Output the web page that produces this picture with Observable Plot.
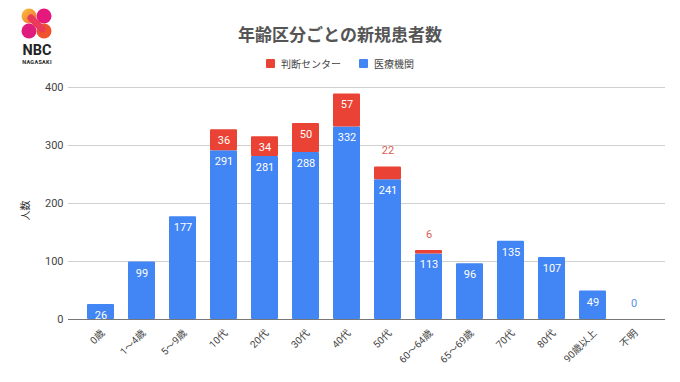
<!DOCTYPE html>
<html>
<head>
<meta charset="utf-8">
<script src="https://cdn.jsdelivr.net/npm/d3@7"></script>
<script src="https://cdn.jsdelivr.net/npm/@observablehq/plot@0.6"></script>
<style>
  body { margin: 0; background: #fff; }
  #wrap { position: relative; width: 680px; height: 382px; overflow: hidden; font-family: Roboto, "Noto Sans CJK JP", sans-serif; }
  #title { position: absolute; left: 0; width: 680px; top: 21px; text-align: center; font-size: 17px; font-weight: bold; color: #555; font-family: "Noto Sans CJK JP", sans-serif; }
  #legend { position: absolute; left: 0; width: 680px; top: 56px; text-align: center; font-size: 10px; color: #444; font-family: "Noto Sans CJK JP", sans-serif; }
  #legend span.item { display: inline-flex; align-items: center; margin: 0 9px; }
  #legend span.sw { display: inline-block; width: 9px; height: 9px; margin-right: 6px; border-radius: 1px; }
  #logo { position: absolute; left: 18px; top: 6px; }
  #chart { position: absolute; left: 0; top: 0; }
</style>
</head>
<body>
<div id="wrap">
  <div id="chart"></div>
  <svg id="logo" width="40" height="62" viewBox="0 0 40 62">
    <defs>
      <linearGradient id="g1" x1="0" y1="0" x2="1" y2="1">
        <stop offset="0" stop-color="#f9c43a"/><stop offset="1" stop-color="#f06a3a"/>
      </linearGradient>
    </defs>
    <circle cx="11" cy="10" r="7.5" fill="url(#g1)"/>
    <circle cx="26" cy="10" r="7.5" fill="#e5197c"/>
    <circle cx="11" cy="25" r="7.5" fill="#e01d7e"/>
    <circle cx="26" cy="25" r="7.5" fill="#f0532c"/>
    <path d="M13 12 L24 23" stroke="#ea3a5a" stroke-width="7" stroke-linecap="round"/>
    <text x="19" y="49" text-anchor="middle" font-family="Roboto, sans-serif" font-weight="bold" font-size="14.5" fill="#222">NBC</text>
    <text x="19" y="58" text-anchor="middle" font-family="Roboto, sans-serif" font-weight="bold" font-size="5.5" fill="#222" letter-spacing="0.3">NAGASAKI</text>
  </svg>
  <div id="title">年齢区分ごとの新規患者数</div>
  <div id="legend"></div>
</div>
<script>
const categories = ["0歳","1〜4歳","5〜9歳","10代","20代","30代","40代","50代","60〜64歳","65〜69歳","70代","80代","90歳以上","不明"];
const iryo   = [26, 99, 177, 291, 281, 288, 332, 241, 113, 96, 135, 107, 49, 0];
const handan = [0, 0, 0, 36, 34, 50, 57, 22, 6, 0, 0, 0, 0, 0];
const seriesNames = ["判断センター", "医療機関"];
const seriesColors = ["#EA4335", "#4285F4"];
const yTicks = [0, 100, 200, 300, 400];
const yLabel = "人数";

// legend
const legend = document.getElementById("legend");
seriesNames.forEach((s, i) => {
  const item = document.createElement("span");
  item.className = "item";
  const sw = document.createElement("span");
  sw.className = "sw";
  sw.style.background = seriesColors[i];
  item.appendChild(sw);
  item.appendChild(document.createTextNode(s));
  legend.appendChild(item);
});

const rows = [];
categories.forEach((c, i) => {
  rows.push({cat: c, series: seriesNames[1], value: iryo[i]});
  rows.push({cat: c, series: seriesNames[0], value: handan[i]});
});

const blueLabels = categories.map((c, i) => ({cat: c, y: iryo[i], text: String(iryo[i]), inside: iryo[i] >= 25}));
const redLabels = categories.map((c, i) => ({cat: c, y: iryo[i] + handan[i], text: String(handan[i]), inside: handan[i] >= 25, show: handan[i] > 0}))
  .filter(d => d.show);

const chart = Plot.plot({
  width: 680,
  height: 382,
  marginTop: 87,
  marginBottom: 63,
  marginLeft: 68,
  marginRight: 15,
  style: {fontFamily: "Roboto, 'Noto Sans CJK JP', sans-serif", fontSize: "11px", color: "#444", background: "transparent"},
  x: {domain: categories, paddingInner: 0.35, paddingOuter: 0.36, label: null},
  y: {domain: [0, 400], label: null},
  color: {domain: seriesNames, range: seriesColors},
  marks: [
    Plot.gridY(yTicks, {stroke: "#d0d0d0", strokeOpacity: 1}),
    Plot.barY(rows, {x: "cat", y: "value", fill: "series", order: [seriesNames[1], seriesNames[0]], rx: 1}),
    Plot.ruleY([0], {stroke: "#777"}),
    Plot.axisY({ticks: yTicks, tickSize: 0, tickPadding: 5, label: null, fontSize: 11}),
    Plot.axisX({tickRotate: -45, tickSize: 0, tickPadding: 12, dx: 2, label: null, fontSize: 10}),
    Plot.text([yLabel], {frameAnchor: "left", text: d => d, rotate: -90, dx: -43, dy: 17, fontSize: 10, fill: "#333"}),
    Plot.text(blueLabels.filter(d => d.inside), {x: "cat", y: "y", text: "text", dy: 11, fill: "white", fontSize: 11}),
    Plot.text(blueLabels.filter(d => !d.inside), {x: "cat", y: "y", text: "text", dy: -16, fill: "#5b8fe8", fontSize: 11}),
    Plot.text(redLabels.filter(d => d.inside), {x: "cat", y: "y", text: "text", dy: 11, fill: "white", fontSize: 11}),
    Plot.text(redLabels.filter(d => !d.inside), {x: "cat", y: "y", text: "text", dy: -16, fill: "#d8604f", fontSize: 11})
  ]
});
document.getElementById("chart").appendChild(chart);
</script>
</body>
</html>
